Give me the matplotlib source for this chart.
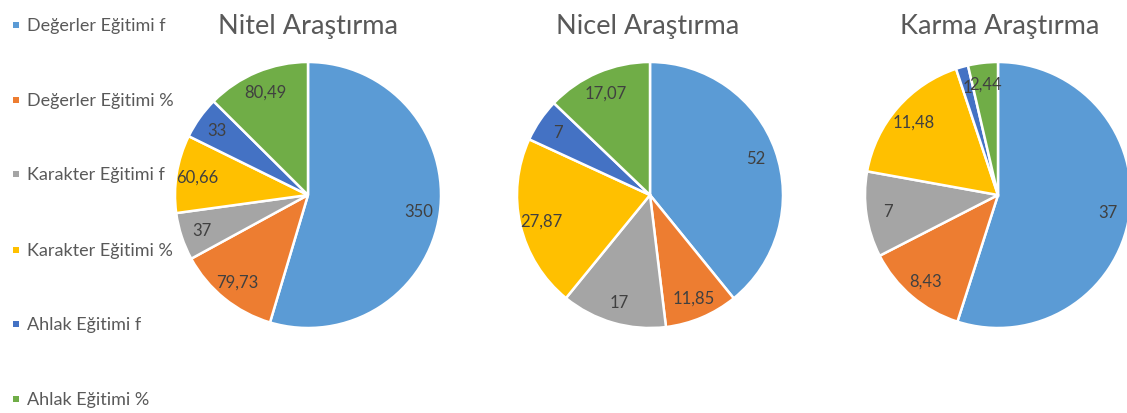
import matplotlib
matplotlib.use("Agg")
import matplotlib.pyplot as plt
from matplotlib.patches import Rectangle
import numpy as np

categories = ["Değerler Eğitimi f", "Değerler Eğitimi %", "Karakter Eğitimi f",
              "Karakter Eğitimi %", "Ahlak Eğitimi f", "Ahlak Eğitimi %"]
titles = ["Nitel Araştırma", "Nicel Araştırma", "Karma Araştırma"]
nitel = [350, 79.73, 37, 60.66, 33, 80.49]
nicel = [52, 11.85, 17, 27.87, 7, 17.07]
karma = [37, 8.43, 7, 11.48, 1, 2.44]
series = [nitel, nicel, karma]

colors = ["#5B9BD5", "#ED7D31", "#A5A5A5", "#FFC000", "#4472C4", "#70AD47"]

W, H = 1127, 414
fig = plt.figure(figsize=(W / 100, H / 100), dpi=100)
fig.patch.set_facecolor("white")
FONT = ["Lato", "DejaVu Sans"]

def fmt(v):
    if float(v).is_integer():
        return str(int(v))
    return f"{v:.2f}".replace(".", ",")

centers_x = [308, 650, 998]
title_x = [308, 648, 1000]
cy = 196
R = 133
for title, vals, cx, tx in zip(titles, series, centers_x, title_x):
    ax = fig.add_axes([(cx - R) / W, (H - cy - R) / H, 2 * R / W, 2 * R / H])
    wedges, _ = ax.pie(vals, colors=colors, startangle=90, counterclock=False,
                       radius=1, wedgeprops=dict(edgecolor="white", linewidth=1.8))
    ax.set_xlim(-1, 1)
    ax.set_ylim(-1, 1)
    ax.set_aspect("equal")
    ax.axis("off")
    for w, v in zip(wedges, vals):
        ang = np.deg2rad((w.theta1 + w.theta2) / 2)
        d = 0.84
        ax.text(d * np.cos(ang), d * np.sin(ang), fmt(v), ha="center", va="center",
                fontsize=12, color="#404040", family=FONT)
    fig.text(tx / W, 1 - 34 / H, title, ha="center", va="baseline",
             fontsize=19.5, color="#595959", family=FONT)

leg_y = [24, 99, 173, 249, 323, 398]
for cat, col, y in zip(categories, colors, leg_y):
    fig.patches.append(Rectangle((13 / W, 1 - (y + 5) / H), 6 / W, 6 / H,
                                 transform=fig.transFigure, facecolor=col,
                                 edgecolor="none"))
    fig.text(27 / W, 1 - (y + 7) / H, cat, ha="left", va="baseline", fontsize=13,
             color="#595959", family=FONT)

fig.savefig("out.png", dpi=100, facecolor="white")
